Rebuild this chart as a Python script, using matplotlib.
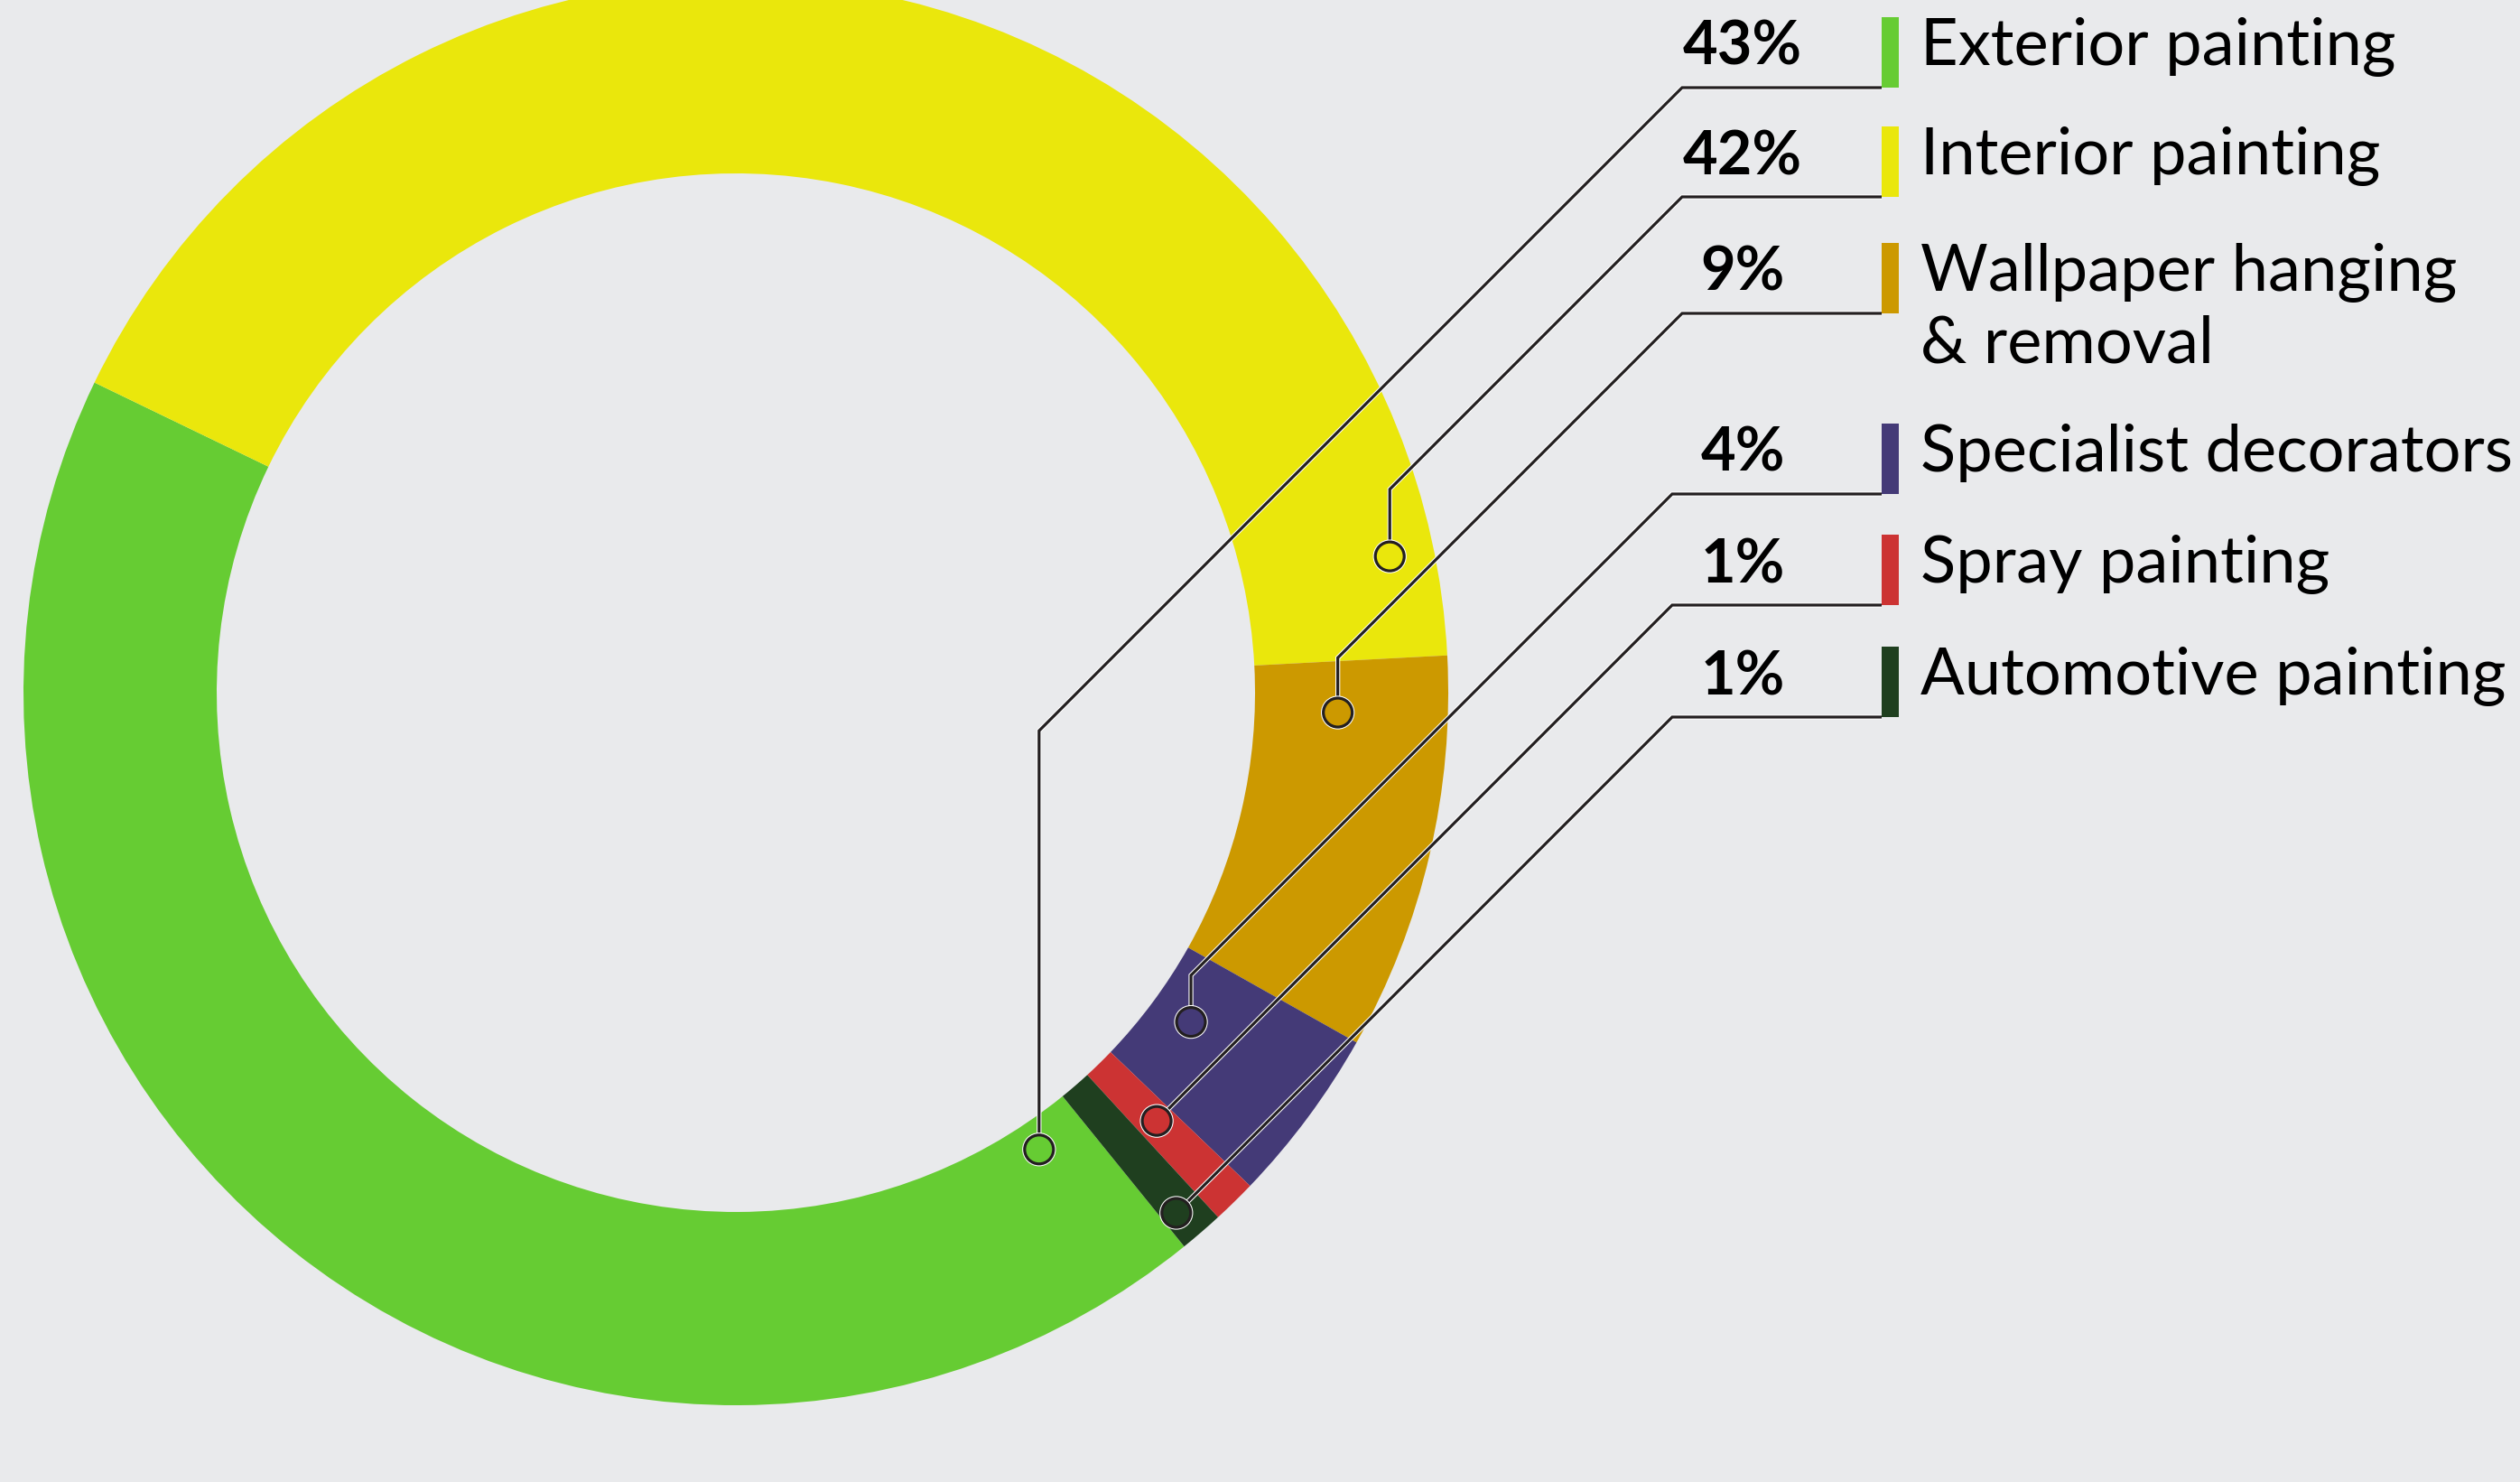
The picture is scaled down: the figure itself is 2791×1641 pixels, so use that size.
import numpy as np
import matplotlib.pyplot as plt
from matplotlib.patches import Circle, Rectangle
import matplotlib.patheffects as pe

# data
categories = ['Exterior painting', 'Interior painting', 'Wallpaper hanging\n& removal',
              'Specialist decorators', 'Spray painting', 'Automotive painting']
shares = [43, 42, 9, 4, 1, 1]
colors = ['#66cc33', '#eae70c', '#cc9900', '#443a77', '#cc3333', '#1f3f1f']

# leader dot placement inside each wedge: fraction along the arc, fraction across the ring
dot_along = [0.035, 0.942, 0.151, 0.45, 0.47, 0.65]
dot_across = [0.15, 0.77, 0.43, 0.22, 0.42, 0.84]
# legend rows: underline height (px from top) and where the underline starts
row_y = [97, 218, 347, 547, 670, 794]
line_x0 = [1863, 1863, 1863, 1852, 1852, 1852]

W, H = 2791, 1641
BG = '#e9eaec'
INK = '#231f20'
cx, cy = 815, H - 767
r_out, r_in = 789, 575
bar_x, bar_w, bar_h = 2084, 19, 78
pct_x, txt_x = 1930, 2127

plt.rcParams['font.family'] = ['Lato', 'DejaVu Sans']

fig = plt.figure(figsize=(W / 100, H / 100), dpi=100, facecolor=BG)
ax = fig.add_axes([0, 0, 1, 1])
ax.set_facecolor(BG)

wedges, _ = ax.pie(shares, colors=colors, startangle=309, counterclock=False,
                   radius=r_out, center=(cx, cy),
                   wedgeprops=dict(width=r_out - r_in, linewidth=0))
ax.set_xlim(0, W)
ax.set_ylim(0, H)
ax.set_aspect('equal')
ax.axis('off')

halo = [pe.Stroke(linewidth=3.8, foreground='white'), pe.Normal()]

for i, w in enumerate(wedges):
    ang = w.theta2 - dot_along[i] * (w.theta2 - w.theta1)
    rr = r_in + dot_across[i] * (r_out - r_in)
    dx = cx + rr * np.cos(np.radians(ang))
    dy = cy + rr * np.sin(np.radians(ang))
    ly = H - row_y[i]
    knee_y = ly - (line_x0[i] - dx)

    ax.plot([dx, dx, line_x0[i], bar_x], [dy, knee_y, ly, ly], color=INK, lw=2.3,
            solid_joinstyle='miter', solid_capstyle='butt', path_effects=halo, zorder=3)
    ax.add_patch(Circle((dx, dy), 16, facecolor=colors[i], edgecolor=INK, lw=2.3,
                        path_effects=halo, zorder=4))

    ax.add_patch(Rectangle((bar_x, ly), bar_w, bar_h, facecolor=colors[i], lw=0, zorder=3))
    ax.text(pct_x, ly + 25, f'{shares[i]}%', ha='center', va='baseline',
            fontsize=48, fontweight='bold', color='black')
    for j, line in enumerate(categories[i].split('\n')):
        ax.text(txt_x, ly + 25 - j * 79, line, ha='left', va='baseline',
                fontsize=52, color='black')

fig.savefig('out.png', dpi=100, facecolor=BG)
